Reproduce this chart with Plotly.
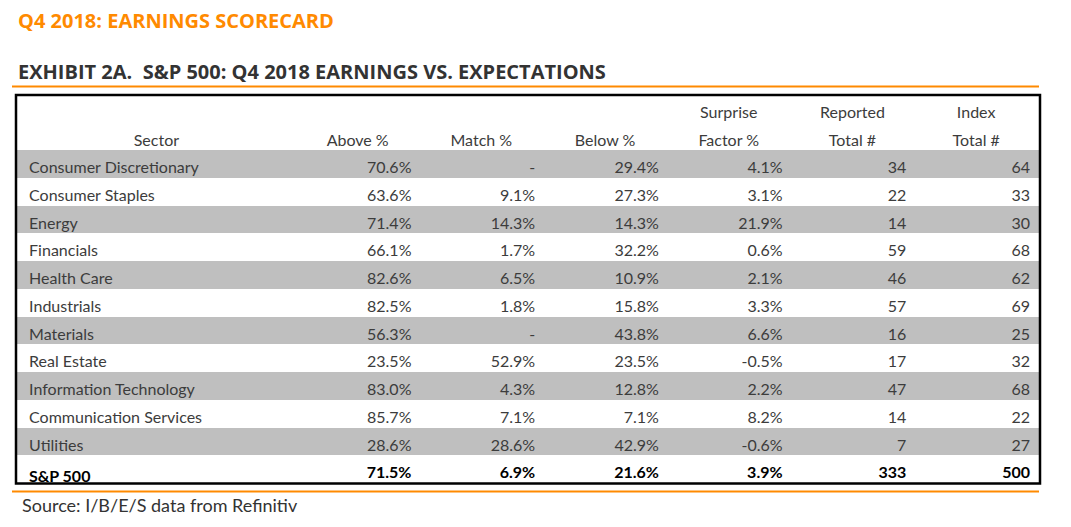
import plotly.graph_objects as go

W, H = 1071, 527

sectors = ["Consumer Discretionary", "Consumer Staples", "Energy", "Financials",
           "Health Care", "Industrials", "Materials", "Real Estate",
           "Information Technology", "Communication Services", "Utilities"]
above = [70.6, 63.6, 71.4, 66.1, 82.6, 82.5, 56.3, 23.5, 83.0, 85.7, 28.6]
match = [None, 9.1, 14.3, 1.7, 6.5, 1.8, None, 52.9, 4.3, 7.1, 28.6]
below = [29.4, 27.3, 14.3, 32.2, 10.9, 15.8, 43.8, 23.5, 12.8, 7.1, 42.9]
surprise = [4.1, 3.1, 21.9, 0.6, 2.1, 3.3, 6.6, -0.5, 2.2, 8.2, -0.6]
reported = [34, 22, 14, 59, 46, 57, 16, 17, 47, 14, 7]
index_total = [64, 33, 30, 68, 62, 69, 25, 32, 68, 22, 27]

total_label = "S&P 500"
total_row = [71.5, 6.9, 21.6, 3.9, 333, 500]

header_top = ["", "", "", "", "Surprise", "Reported", "Index"]
header_bot = ["Sector", "Above %", "Match %", "Below %", "Factor %", "Total #", "Total #"]

FONT = "Lato"
TITLE_FONT = "Open Sans"
TXT = "#3c3c3c"
GRAY = "#bfbfbf"
ORANGE = "#ff8a00"
CLEAR = "rgba(0,0,0,0)"


def pct(v):
    return "-" if v is None else f"{v:.1f}%"


def px_x(x):
    return x / W


def px_y(y):
    return 1 - y / H


data_cols = [
    ["\u00a0" + s for s in sectors],
    [pct(v) for v in above],
    [pct(v) for v in match],
    [pct(v) for v in below],
    [pct(v) for v in surprise],
    [str(v) for v in reported],
    [str(v) for v in index_total],
]
total_vals = ["\u00a0" + total_label] + [pct(v) for v in total_row[:4]] + [str(v) for v in total_row[4:]]

nsec = len(sectors)
ncol = len(data_cols)
nrows_all = nsec + 2  # header line 2 + sectors + total

# first cell row = second header line, then the sector rows
cols = [[hb] + dc for hb, dc in zip(header_bot, data_cols)]
band_vals = [[""] * nrows_all for _ in range(ncol)]
fills_col = ["white"] + [GRAY if i % 2 == 0 else "white" for i in range(nsec)] + ["white"]
align_body = [["center"] + ["left"] * nsec] + [["center"] + ["right"] * nsec for _ in range(ncol - 1)]
align_tot = ["left"] + ["right"] * (ncol - 1)

col_w = [279] + [123.8] * 6
x0, x1 = 17, 1039
box_top, box_bot = 95.5, 483.5
hdr_h = 27.5
row_h = (box_bot - box_top - hdr_h) / (nrows_all - 1 + 1 - 1 + 1)  # 13 cell rows below header
shift = 2.5  # text sits slightly low within each band in the reference
tot_top = box_top + hdr_h + (nsec + 1) * row_h

# background table: row bands only
bands = dict(
    type="table",
    domain=dict(x=[px_x(x0), px_x(x1)], y=[px_y(box_bot + 6), px_y(box_top)]),
    columnwidth=col_w,
    header=dict(values=[""] * ncol, height=hdr_h, fill=dict(color="white"),
                line=dict(width=1, color="white")),
    cells=dict(values=band_vals, height=row_h,
               fill=dict(color=[fills_col] * ncol),
               line=dict(width=1, color=[fills_col] * ncol)),
)

# header + sector text, transparent, laid over the bands
body_text = dict(
    type="table",
    domain=dict(x=[px_x(x0), px_x(x1)],
                y=[px_y(tot_top + shift + 4), px_y(box_top + shift)]),
    columnwidth=col_w,
    header=dict(
        values=header_top,
        height=hdr_h,
        align="center",
        fill=dict(color=CLEAR),
        line=dict(width=0, color=CLEAR),
        font=dict(family=FONT, size=16, color=TXT),
    ),
    cells=dict(
        values=cols,
        height=row_h,
        align=align_body,
        fill=dict(color=CLEAR),
        line=dict(width=0, color=CLEAR),
        font=dict(family=FONT, size=16, color=TXT),
    ),
)

# bold total row
total_text = dict(
    type="table",
    domain=dict(x=[px_x(x0), px_x(x1)],
                y=[px_y(tot_top + shift + row_h + 3), px_y(tot_top + shift)]),
    columnwidth=col_w,
    header=dict(
        values=total_vals,
        height=row_h,
        align=align_tot,
        fill=dict(color=CLEAR),
        line=dict(width=0, color=CLEAR),
        font=dict(family=FONT, size=16, color="#000000", weight="bold"),
    ),
    cells=dict(values=[]),
)

shapes = [
    dict(type="rect", xref="paper", yref="paper",
         x0=px_x(16), x1=px_x(1040), y0=px_y(483.5), y1=px_y(95),
         line=dict(color="black", width=2.5), fillcolor=CLEAR),
    dict(type="line", xref="paper", yref="paper",
         x0=px_x(12), x1=px_x(1039), y0=px_y(86.5), y1=px_y(86.5),
         line=dict(color=ORANGE, width=2)),
    dict(type="line", xref="paper", yref="paper",
         x0=px_x(12), x1=px_x(1039), y0=px_y(491.5), y1=px_y(491.5),
         line=dict(color=ORANGE, width=2)),
]

annotations = [
    dict(text="<b>Q4 2018: EARNINGS SCORECARD</b>", x=px_x(16), y=px_y(20),
         xref="paper", yref="paper", xanchor="left", yanchor="middle", showarrow=False,
         font=dict(family=TITLE_FONT, size=20, color=ORANGE)),
    dict(text="<b>EXHIBIT 2A.  S&P 500: Q4 2018 EARNINGS VS. EXPECTATIONS</b>",
         x=px_x(16), y=px_y(72), xref="paper", yref="paper", xanchor="left",
         yanchor="middle", showarrow=False,
         font=dict(family=TITLE_FONT, size=20, color="#333333")),
    dict(text="Source: I/B/E/S data from Refinitiv", x=px_x(20), y=px_y(505),
         xref="paper", yref="paper", xanchor="left", yanchor="middle", showarrow=False,
         font=dict(family=FONT, size=18, color="#333333")),
]

layout = dict(
    width=W, height=H,
    margin=dict(l=0, r=0, t=0, b=0),
    paper_bgcolor="white", plot_bgcolor="white",
    shapes=shapes, annotations=annotations,
    showlegend=False,
)

fig = go.Figure(data=[bands, body_text, total_text], layout=layout, _validate=False)

fig.write_html("out.html", config={"displayModeBar": False},
               post_script="document.body.style.margin='0';")
